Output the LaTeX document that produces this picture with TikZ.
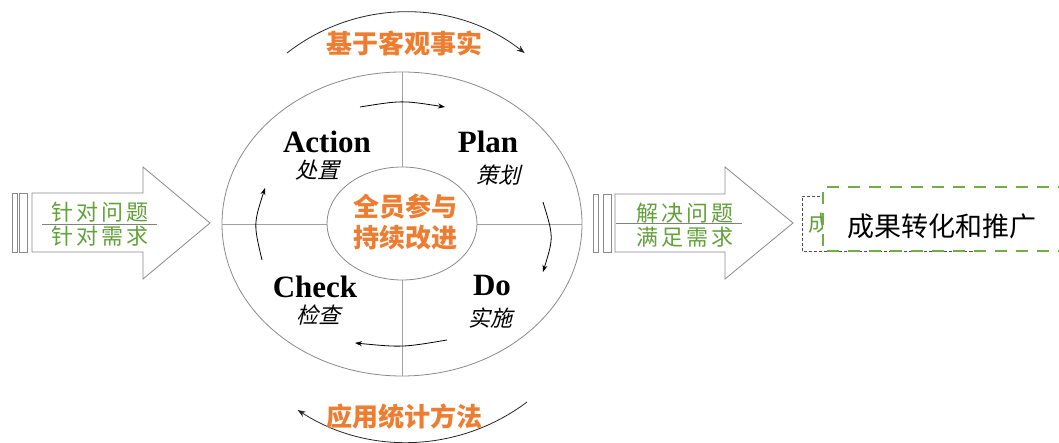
\documentclass[tikz,border=0pt]{standalone}
\usepackage{fontspec}
\setmainfont{Liberation Serif}
\newfontfamily\cjk{Noto Sans CJK SC}
\newfontfamily\cjksp[LetterSpace=15]{Noto Sans CJK SC}
\newfontfamily\cjkit[FakeSlant=0.25]{Noto Sans CJK SC}
\usetikzlibrary{arrows.meta,shapes.geometric}
\definecolor{orng}{HTML}{ED7D31}
\definecolor{grn}{HTML}{62A13A}
\definecolor{gbox}{HTML}{70AD47}
\definecolor{lgray}{HTML}{8A8A8A}
\begin{document}
\begin{tikzpicture}[x=1pt,y=1pt,
  ring/.style={draw=lgray, line width=0.8pt},
  crossline/.style={draw=lgray!80, line width=0.6pt},
  cyc/.style={draw=black, line width=0.8pt, -{Stealth[length=7pt,width=5pt]}},
  bigarc/.style={draw=black!85, line width=0.8pt, -{Stealth[length=8pt,width=6pt]}},
  eng/.style={font=\fontsize{31}{33}\selectfont\bfseries, inner sep=0pt},
  chi/.style={font=\cjkit\fontsize{22}{24}\selectfont, inner sep=0pt},
  org/.style={text=orng, font=\cjk\bfseries\fontsize{26}{28}\selectfont, inner sep=0pt},
  grt/.style={text=grn, font=\cjksp\fontsize{22}{24}\selectfont, inner sep=0pt},
  bigarrow/.style={draw=lgray, line width=0.8pt, fill=white},
  barbox/.style={draw=lgray, line width=0.8pt, fill=white}
]
\useasboundingbox (0,0) rectangle (1059,443);

% central ellipses
\node[ellipse, ring, minimum width=360pt, minimum height=304pt, inner sep=0pt, outer sep=0pt] (outer) at (402,219) {};
\draw[crossline] (outer.west) -- (outer.east);
\draw[crossline] (outer.north) -- (outer.south);
\node[ellipse, ring, fill=white, minimum width=150pt, minimum height=113pt, inner sep=0pt, outer sep=0pt] (inner) at (402,219.5) {};
\node[org] (c1) at (405,236) {全员参与};
\node[org] (c2) at (405,205) {持续改进};

% quadrant labels
\node[eng] (act) at (327,301) {Action};
\node[chi] (actc) at (317,273) {处置};
\node[eng] (plan) at (488,301) {Plan};
\node[chi] (planc) at (498,268) {策划};
\node[eng] (chk) at (315,156) {Check};
\node[chi] (chkc) at (318,128) {检查};
\node[eng] (do) at (492,157) {Do};
\node[chi] (doc) at (490,125) {实施};

% small cycle arrows
\draw[cyc] (360,336) .. controls (401.8,342.7) .. (445,336);
\draw[cyc] (543,241) .. controls (553.7,206) .. (543,171);
\draw[cyc] (447,103) .. controls (402.3,95.5) .. (355,100);
\draw[cyc] (262,183) .. controls (253.5,219) .. (265,255);

% big arcs
\draw[bigarc] (287,390) arc[start angle=128, end angle=52, radius=193];
\node[org] (top) at (404,400) {基于客观事实};
\draw[bigarc] (527,41) arc[start angle=-53, end angle=-123, radius=200];
\node[org] (bot) at (404,26) {应用统计方法};

% left arrow
\draw[barbox] (12,191) rectangle (17,250);
\draw[barbox] (19,191) rectangle (27,250);
\draw[bigarrow] (32,191) -- (143,191) -- (143,164) -- (210,220) -- (143,276) -- (143,250) -- (32,250) -- cycle;
\node[grt] (l1) at (100,231) {针对问题};
\node[grt] (l2) at (100,207) {针对需求};
\draw[draw=gray, line width=0.8pt] (42,219) -- (157,219);

% right arrow
\draw[barbox] (593,191) rectangle (598,249);
\draw[barbox] (603,191) rectangle (611,249);
\draw[bigarrow] (615,191) -- (725,191) -- (725,164) -- (793,220) -- (725,276) -- (725,249) -- (615,249) -- cycle;
\node[grt] (r1) at (685,230) {解决问题};
\node[grt] (r2) at (685,206) {满足需求};
\draw[draw=gray, line width=0.8pt] (616,220) -- (742,220);

% result boxes
\draw[densely dashed, draw=black!70, line width=0.7pt] (802,192) rectangle (972,247);
\node[grt, anchor=west] (hid) at (808,220) {成};
\fill[white] (823,192) rectangle (1070,256);
\draw[draw=gbox, line width=2.5pt, dash pattern=on 12pt off 9pt] (1070,256) -- (823,256) -- (823,192) -- (1070,192);
\node[font=\cjk\fontsize{27}{29}\selectfont, inner sep=0pt] (res) at (942,217) {成果转化和推广};
\end{tikzpicture}
\end{document}
